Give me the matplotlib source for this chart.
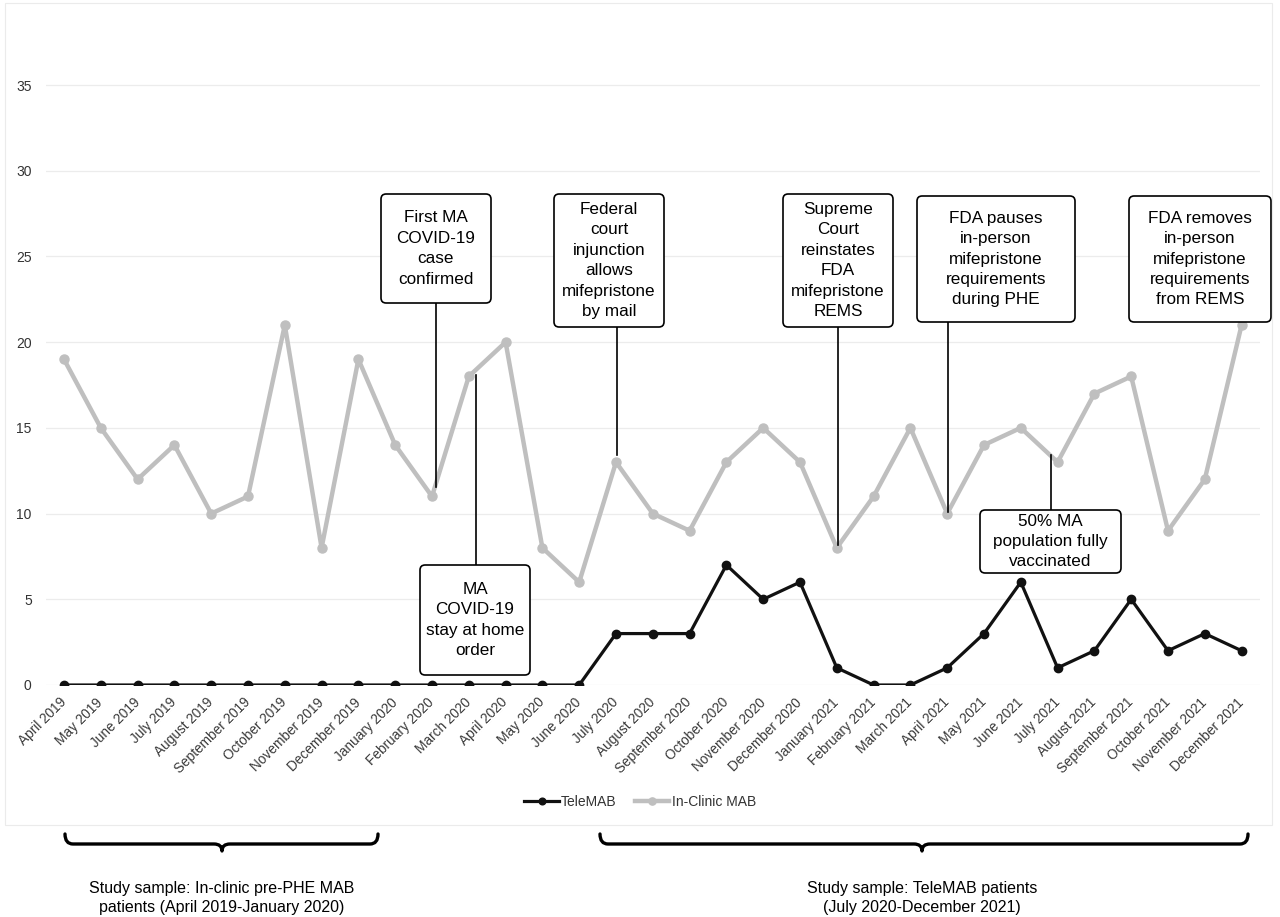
"""
Monthly TeleMAB vs in-clinic MAB counts with policy timeline notes.
"""
import numpy as np
import matplotlib as mpl
mpl.use('Agg')
import matplotlib.pyplot as plt
from matplotlib.patches import FancyBboxPatch, Rectangle, PathPatch
from matplotlib.path import Path

months = ["April 2019", "May 2019", "June 2019", "July 2019", "August 2019",
          "September 2019", "October 2019", "November 2019", "December 2019",
          "January 2020", "February 2020", "March 2020", "April 2020",
          "May 2020", "June 2020", "July 2020", "August 2020",
          "September 2020", "October 2020", "November 2020", "December 2020",
          "January 2021", "February 2021", "March 2021", "April 2021",
          "May 2021", "June 2021", "July 2021", "August 2021",
          "September 2021", "October 2021", "November 2021", "December 2021"]
telemab = [0, 0, 0, 0, 0, 0, 0, 0, 0, 0, 0, 0, 0, 0, 0,
           3, 3, 3, 7, 5, 6, 1, 0, 0, 1, 3, 6, 1, 2, 5, 2, 3, 2]
inclinic = [19, 15, 12, 14, 10, 11, 21, 8, 19, 14, 11, 18, 20, 8, 6,
            13, 10, 9, 13, 15, 13, 8, 11, 15, 10, 14, 15, 13, 17, 18, 9, 12, 21]

notes = ["First MA\nCOVID-19\ncase\nconfirmed",
         "MA\nCOVID-19\nstay at home\norder",
         "Federal\ncourt\ninjunction\nallows\nmifepristone\nby mail",
         "Supreme\nCourt\nreinstates\nFDA\nmifepristone\nREMS",
         "FDA pauses\nin-person\nmifepristone\nrequirements\nduring PHE",
         "FDA removes\nin-person\nmifepristone\nrequirements\nfrom REMS",
         "50% MA\npopulation fully\nvaccinated"]

samples = ["Study sample: In-clinic pre-PHE MAB\npatients (April 2019-January 2020)",
           "Study sample: TeleMAB patients\n(July 2020-December 2021)"]

W, H = 1280, 917
plt.rcParams['font.family'] = ['Liberation Sans', 'DejaVu Sans']

fig = plt.figure(figsize=(W / 100, H / 100), dpi=100)
ymax = 38
ax = fig.add_axes([45.6 / W, 1 - 685 / H, (1260 - 45.6) / W, (685 - 33.6) / H])

x = np.arange(len(months))
l_in, = ax.plot(x, inclinic, color='#bfbfbf', lw=3.2, marker='o', ms=6.5,
                zorder=3, label='In-Clinic MAB')
l_tele, = ax.plot(x, telemab, color='#111111', lw=2.3, marker='o', ms=6,
                  zorder=4, label='TeleMAB')

ax.set_xlim(-0.5, len(months) - 0.5)
ax.set_ylim(0, ymax)
ax.set_yticks(range(0, 36, 5))
ax.set_xticks(x)
ax.set_xticklabels(months, rotation=45, ha='right', va='center',
                   rotation_mode='anchor', fontsize=9.8, color='#3a3a3a')
ax.tick_params(axis='x', length=0, pad=11)
ax.tick_params(axis='y', length=0, pad=10, labelsize=10, labelcolor='#333333')
ax.yaxis.grid(True, color='#ececec', lw=0.9)
ax.set_axisbelow(True)
for s in ax.spines.values():
    s.set_visible(False)

# pixel -> data helpers (layout only)
pxx = (1260 - 45.6) / 33
pxy = (685 - 33.6) / ymax
def dx(px):
    return (px - 45.6) / pxx - 0.5
def dy(py):
    return (685 - py) / pxy

def add_note(text, box, line=None):
    l, t, r, b = box
    p = FancyBboxPatch((dx(l), dy(b)), (r - l) / pxx, (b - t) / pxy,
                       boxstyle="round,pad=0,rounding_size=0.14",
                       mutation_aspect=pxx / pxy, fc='white', ec='black',
                       lw=1.2, zorder=6, clip_on=False)
    ax.add_patch(p)
    ax.text(dx((l + r) / 2), dy((t + b) / 2), text, ha='center', va='center',
            fontsize=12.3, color='black', linespacing=1.45, zorder=7)
    if line is not None:
        lx, y0, y1 = line
        ax.plot([dx(lx), dx(lx)], [dy(y0), dy(y1)], color='black', lw=1.2,
                zorder=5, clip_on=False)

add_note(notes[0], (381, 194, 491, 303), (436, 303, 487))
add_note(notes[1], (420, 565, 530, 675), (476, 565, 375))
add_note(notes[2], (554, 194, 664, 327), (617, 327, 455))
add_note(notes[3], (783, 194, 893, 327), (838, 327, 545))
add_note(notes[4], (917, 196, 1075, 322), (948, 322, 512))
add_note(notes[5], (1129, 196, 1271, 322))
add_note(notes[6], (980, 510, 1121, 573), (1051, 510, 455))

# legend
fig.legend(handles=[l_tele, l_in], loc='center',
           bbox_to_anchor=(0.5, 1 - 802 / H), ncol=2, frameon=False,
           fontsize=10, handlelength=2.5, handletextpad=0.15,
           columnspacing=1.3, labelcolor='#333333', markerscale=0.8)

# light frame round the chart region
fig.add_artist(Rectangle((5 / W, 1 - 825 / H), (1272 - 5) / W, (825 - 3) / H,
                         transform=fig.transFigure, fill=False,
                         ec='#ebebeb', lw=0.8))

def brace(x0, x1, xm, top=834, base=844, tip=851, r=8):
    f = lambda px, py: (px / W, 1 - py / H)
    verts = [f(x0, top), f(x0, base), f(x0 + r, base), f(xm - r, base),
             f(xm, base), f(xm, tip), f(xm, base), f(xm + r, base),
             f(x1 - r, base), f(x1, base), f(x1, top)]
    codes = [Path.MOVETO, Path.CURVE3, Path.CURVE3, Path.LINETO,
             Path.CURVE3, Path.CURVE3, Path.CURVE3, Path.CURVE3,
             Path.LINETO, Path.CURVE3, Path.CURVE3]
    fig.add_artist(PathPatch(Path(verts, codes), transform=fig.transFigure,
                             fill=False, ec='black', lw=2.4,
                             capstyle='round', joinstyle='round'))

brace(65, 378, 222)
brace(600, 1248, 922)

fig.text(222 / W, 1 - 898 / H, samples[0], ha='center', va='center',
         fontsize=11.5, linespacing=1.3)
fig.text(922 / W, 1 - 898 / H, samples[1], ha='center', va='center',
         fontsize=11.5, linespacing=1.3)

fig.savefig("out.png", dpi=100, facecolor='white')
